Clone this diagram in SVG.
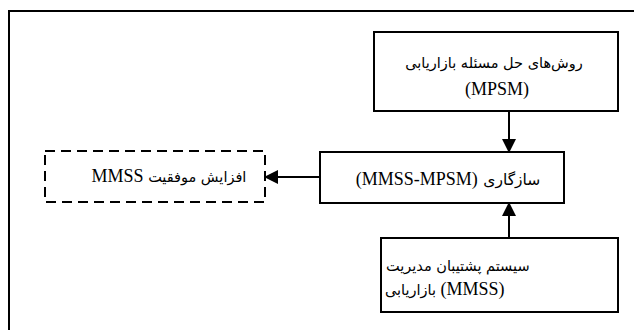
<svg xmlns="http://www.w3.org/2000/svg" width="634" height="330" viewBox="0 0 634 330">
<style>
.box{fill:#fff;stroke:#000;stroke-width:2}
.dash{fill:#fff;stroke:#000;stroke-width:2;stroke-dasharray:10 6}
.frame{fill:#fff;stroke:#000;stroke-width:2}
.conn{stroke:#000;stroke-width:2;fill:none}
.t{font-family:"Liberation Serif","DejaVu Sans",serif;font-size:18px;fill:#000}
.lat{font-family:"Liberation Serif",serif;font-size:18px}
.ar{font-family:"DejaVu Sans",sans-serif;font-size:14.5px}
</style>
<defs>
<marker id="arr" markerUnits="userSpaceOnUse" markerWidth="14" markerHeight="14" viewBox="0 0 14 14" refX="13" refY="7" orient="auto">
<path d="M0,0 L14,7 L0,14 Z" fill="#000"/>
</marker>
</defs>
<rect class="frame" x="9" y="11" width="640" height="330"/>
<g id="node-mpsm">
<rect class="box" x="374" y="32" width="244" height="79"/>
<text class="t ar" x="494" y="68" text-anchor="middle" direction="rtl">روش‌های حل مسئله بازاریابی</text>
<text class="t" x="497" y="95" text-anchor="middle">(MPSM)</text>
</g>
<g id="node-fit">
<rect class="box" x="320" y="152" width="244" height="51"/>
<text class="t" x="448" y="185" text-anchor="middle" direction="rtl" unicode-bidi="embed" word-spacing="1"><tspan class="ar" style="font-size:15.5px">سازگاری</tspan><tspan class="lat"> (MMSS-MPSM)</tspan></text>
</g>
<g id="node-success">
<rect class="dash" x="45" y="151" width="220" height="51"/>
<text class="t" x="169" y="182" text-anchor="middle" direction="rtl" unicode-bidi="embed"><tspan class="ar">افزایش موفقیت</tspan><tspan class="lat"> MMSS</tspan></text>
</g>
<g id="node-mmss">
<rect class="box" x="381" y="238" width="237" height="74"/>
<text class="t ar" x="386" y="271" direction="ltr">سیستم پشتیبان مدیریت</text>
<text class="t" x="385" y="295" direction="ltr" unicode-bidi="embed"><tspan class="ar">بازاریابی</tspan><tspan class="lat"> (MMSS)</tspan></text>
</g>
<g id="connectors">
<line class="conn" x1="509" y1="111" x2="509" y2="152" marker-end="url(#arr)"/>
<line class="conn" x1="509" y1="238" x2="509" y2="203" marker-end="url(#arr)"/>
<line class="conn" x1="320" y1="177" x2="265" y2="177" marker-end="url(#arr)"/>
</g>
</svg>
